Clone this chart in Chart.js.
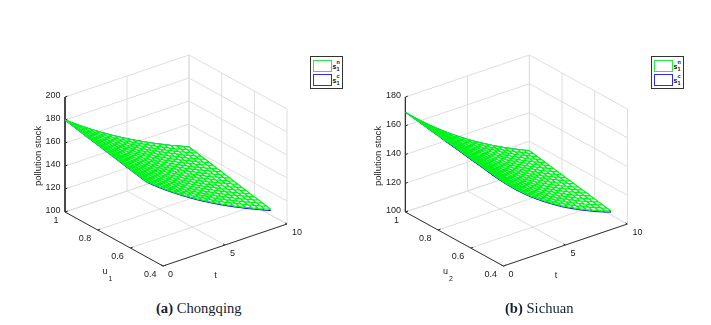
<!DOCTYPE html>
<html>
<head>
<meta charset="utf-8">
<script src="https://cdn.jsdelivr.net/npm/chart.js@4"></script>
<style>
  html, body { margin: 0; padding: 0; background: #fff; }
  #page { position: relative; width: 711px; height: 325px; overflow: hidden; }
  canvas { position: absolute; top: 0; }
  .caption { position: absolute; top: 300px; font: 14.6px "Liberation Serif", serif; color: #14202e; white-space: nowrap; }
  .legend { position: absolute; top: 56px; width: 31px; height: 31px; border: 1px solid #333; background: #fff; }
  .swatch { position: absolute; left: 2px; width: 17px; height: 10px; border: 1.3px solid; }
  .entry { position: absolute; left: 21.5px; font: bold 7px "Liberation Sans", sans-serif; color: #111; line-height: 7px; }
  .entry sup, .entry sub { position: absolute; left: 4px; font-size: 5.5px; line-height: 5.5px; }
  .entry sup { top: -3px; }
  .entry sub { top: 4px; }
</style>
</head>
<body>
<div id="page">
  <canvas id="chongqing" width="345" height="295" style="left:0"></canvas>
  <canvas id="sichuan" width="345" height="295" style="left:340px"></canvas>

  <div class="legend" style="left:310px">
    <div class="swatch" style="top:3px;border-color:#22ee44"></div>
    <div class="entry" style="top:6px">s<sup>n</sup><sub>1</sub></div>
    <div class="swatch" style="top:17px;border-color:#2a2aee"></div>
    <div class="entry" style="top:20px">s<sup>c</sup><sub>1</sub></div>
  </div>
  <div class="legend" style="left:651px">
    <div class="swatch" style="top:3px;border-color:#22ee44"></div>
    <div class="entry" style="top:6px">s<sup>n</sup><sub>1</sub></div>
    <div class="swatch" style="top:17px;border-color:#2a2aee"></div>
    <div class="entry" style="top:20px">s<sup>c</sup><sub>1</sub></div>
  </div>

  <div class="caption" style="left:156px"><b>(a)</b> Chongqing</div>
  <div class="caption" style="left:505px"><b>(b)</b> Sichuan</div>
</div>

<script>
// Grid the surfaces were read on
const tValues = [0, 0.5, 1, 1.5, 2, 2.5, 3, 3.5, 4, 4.5, 5, 5.5, 6, 6.5, 7, 7.5, 8, 8.5, 9, 9.5, 10];
const uValues = [1, 0.975, 0.95, 0.925, 0.9, 0.875, 0.85, 0.825, 0.8, 0.775, 0.75, 0.725, 0.7, 0.675, 0.65, 0.625, 0.6, 0.575, 0.55, 0.525, 0.5];
const uValuesCoarse = [1, 0.875, 0.75, 0.625, 0.5];

const tTicks = [0, 5, 10];
const uTicks = [1, 0.8, 0.6, 0.4];
const zTicksA = [100, 120, 140, 160, 180, 200];
const zTicksB = [100, 120, 140, 160, 180];

// Chongqing, non-cooperative surface: one row per uValues entry, one column per tValues entry
const chongqingN = [
  [180.0,176.1,172.3,168.6,165.0,161.5,158.1,154.8,151.6,148.5,145.5,142.6,139.8,137.1,134.4,131.9,129.4,126.9,124.6,122.3,120.1],
  [179.3,175.4,171.6,167.8,164.2,160.7,157.3,154.0,150.8,147.7,144.7,141.8,139.0,136.3,133.6,131.1,128.6,126.1,123.8,121.5,119.3],
  [178.6,174.6,170.8,167.1,163.5,160.0,156.6,153.3,150.1,147.0,144.0,141.1,138.2,135.5,132.9,130.4,127.9,125.4,123.1,120.8,118.6],
  [177.8,173.9,170.1,166.3,162.7,159.2,155.8,152.5,149.3,146.2,143.2,140.3,137.5,134.8,132.1,129.6,127.1,124.6,122.3,120.0,117.8],
  [177.1,173.2,169.3,165.6,162.0,158.4,155.0,151.7,148.5,145.4,142.4,139.5,136.7,134.0,131.3,128.8,126.3,123.8,121.5,119.3,117.1],
  [176.4,172.4,168.6,164.8,161.2,157.7,154.3,151.0,147.7,144.6,141.6,138.7,135.9,133.2,130.5,128.0,125.5,123.1,120.8,118.5,116.3],
  [175.7,171.7,167.8,164.1,160.4,156.9,153.5,150.2,147.0,143.9,140.9,138.0,135.1,132.4,129.8,127.3,124.8,122.3,120.0,117.7,115.6],
  [174.9,171.0,167.1,163.3,159.7,156.1,152.7,149.4,146.2,143.1,140.1,137.2,134.3,131.6,129.0,126.5,124.0,121.5,119.2,117.0,114.8],
  [174.2,170.2,166.3,162.6,158.9,155.4,151.9,148.6,145.4,142.3,139.3,136.4,133.6,130.9,128.2,125.7,123.2,120.8,118.5,116.2,114.1],
  [173.5,169.5,165.6,161.8,158.2,154.6,151.2,147.9,144.6,141.5,138.5,135.6,132.8,130.1,127.4,124.9,122.4,120.0,117.7,115.5,113.3],
  [172.8,168.8,164.9,161.1,157.4,153.9,150.4,147.1,143.9,140.8,137.8,134.9,132.0,129.3,126.7,124.2,121.7,119.3,117.0,114.7,112.6],
  [172.0,168.0,164.1,160.3,156.6,153.1,149.6,146.3,143.1,140.0,137.0,134.1,131.2,128.5,125.9,123.4,120.9,118.5,116.2,113.9,111.8],
  [171.3,167.3,163.4,159.5,155.9,152.3,148.9,145.6,142.3,139.2,136.2,133.3,130.4,127.7,125.1,122.6,120.1,117.7,115.4,113.2,111.0],
  [170.6,166.5,162.6,158.8,155.1,151.6,148.1,144.8,141.5,138.4,135.4,132.5,129.7,127.0,124.3,121.8,119.3,117.0,114.7,112.4,110.3],
  [169.9,165.8,161.9,158.0,154.4,150.8,147.3,144.0,140.8,137.7,134.7,131.8,128.9,126.2,123.6,121.1,118.6,116.2,113.9,111.7,109.5],
  [169.1,165.1,161.1,157.3,153.6,150.0,146.6,143.2,140.0,136.9,133.9,131.0,128.1,125.4,122.8,120.3,117.8,115.4,113.1,110.9,108.8],
  [168.4,164.3,160.4,156.5,152.8,149.3,145.8,142.5,139.2,136.1,133.1,130.2,127.3,124.6,122.0,119.5,117.0,114.7,112.4,110.1,108.0],
  [167.7,163.6,159.6,155.8,152.1,148.5,145.0,141.7,138.4,135.3,132.3,129.4,126.5,123.8,121.2,118.7,116.2,113.9,111.6,109.4,107.3],
  [167.0,162.9,158.9,155.0,151.3,147.7,144.2,140.9,137.7,134.6,131.6,128.7,125.8,123.1,120.5,118.0,115.5,113.1,110.8,108.6,106.5],
  [166.2,162.1,158.1,154.3,150.6,147.0,143.5,140.2,136.9,133.8,130.8,127.9,125.0,122.3,119.7,117.2,114.7,112.4,110.1,107.9,105.8],
  [165.5,161.4,157.4,153.5,149.8,146.2,142.7,139.4,136.1,133.0,130.0,127.1,124.2,121.5,118.9,116.4,113.9,111.6,109.3,107.1,105.0]
];

// Chongqing, cooperative surface: one row per uValuesCoarse entry (mostly hidden under the green one)
const chongqingC = [
  [180.0,176.1,172.3,168.6,165.0,161.5,158.1,154.8,151.6,148.5,145.5,142.6,139.8,137.1,134.4,131.9,129.4,126.9,124.6,122.3,120.1],
  [176.1,172.1,168.2,164.4,160.8,157.2,153.8,150.5,147.2,144.1,141.1,138.2,135.4,132.7,130.0,127.5,125.0,122.6,120.3,118.0,115.8],
  [172.4,168.2,164.2,160.3,156.5,152.9,149.4,146.1,142.9,139.8,136.8,133.9,131.0,128.3,125.7,123.2,120.7,118.3,116.0,113.7,111.6],
  [168.6,164.4,160.3,156.3,152.5,148.8,145.3,141.9,138.7,135.6,132.6,129.7,126.8,124.1,121.5,119.0,116.5,114.1,111.8,109.6,107.5],
  [165.0,160.8,156.7,152.8,149.1,145.5,142.0,138.6,135.3,132.2,129.2,126.3,123.4,120.7,118.1,115.6,113.0,110.7,108.4,106.0,103.9]
];

// Sichuan, non-cooperative surface
const sichuanN = [
  [169.4,165.4,161.6,158.0,154.5,151.1,147.8,144.7,141.7,138.8,136.0,133.3,130.8,128.3,125.9,123.6,121.4,119.3,117.3,115.3,113.4],
  [169.0,164.9,161.1,157.5,153.9,150.5,147.2,144.1,141.1,138.2,135.4,132.7,130.2,127.7,125.3,123.0,120.8,118.7,116.7,114.8,112.9],
  [168.5,164.4,160.6,156.9,153.4,149.9,146.6,143.5,140.5,137.5,134.7,132.0,129.5,127.1,124.7,122.4,120.2,118.1,116.2,114.2,112.3],
  [168.1,163.9,160.0,156.4,152.8,149.3,146.0,142.8,139.8,136.9,134.1,131.4,128.9,126.4,124.1,121.8,119.6,117.6,115.6,113.7,111.8],
  [167.6,163.5,159.5,155.8,152.2,148.7,145.4,142.2,139.2,136.3,133.5,130.8,128.3,125.8,123.5,121.2,119.0,117.0,115.0,113.1,111.3],
  [167.2,163.0,159.0,155.3,151.6,148.1,144.8,141.6,138.6,135.6,132.9,130.2,127.7,125.2,122.9,120.6,118.5,116.4,114.5,112.6,110.8],
  [166.7,162.5,158.5,154.7,151.1,147.5,144.2,141.0,138.0,135.0,132.2,129.5,127.0,124.6,122.2,120.0,117.9,115.8,113.9,112.0,110.2],
  [166.3,162.0,158.0,154.2,150.5,146.9,143.6,140.4,137.3,134.4,131.6,128.9,126.4,124.0,121.6,119.4,117.3,115.2,113.3,111.5,109.7],
  [165.8,161.5,157.4,153.6,149.9,146.3,143.0,139.7,136.7,133.8,131.0,128.3,125.8,123.3,121.0,118.8,116.7,114.7,112.8,110.9,109.2],
  [165.4,161.0,156.9,153.1,149.3,145.7,142.4,139.1,136.1,133.1,130.3,127.6,125.1,122.7,120.4,118.2,116.1,114.1,112.2,110.4,108.6],
  [164.9,160.6,156.4,152.5,148.8,145.2,141.8,138.5,135.5,132.5,129.7,127.0,124.5,122.1,119.8,117.6,115.5,113.5,111.7,109.8,108.1],
  [164.5,160.1,155.9,152.0,148.2,144.6,141.1,137.9,134.8,131.9,129.1,126.4,123.9,121.5,119.2,117.0,114.9,112.9,111.1,109.3,107.6],
  [164.1,159.6,155.4,151.4,147.6,144.0,140.5,137.3,134.2,131.2,128.4,125.7,123.2,120.9,118.6,116.4,114.3,112.3,110.5,108.7,107.0],
  [163.6,159.1,154.8,150.9,147.0,143.4,139.9,136.6,133.6,130.6,127.8,125.1,122.6,120.2,118.0,115.8,113.7,111.8,110.0,108.2,106.5],
  [163.2,158.6,154.3,150.3,146.5,142.8,139.3,136.0,133.0,130.0,127.2,124.5,122.0,119.6,117.4,115.2,113.1,111.2,109.4,107.6,106.0],
  [162.7,158.1,153.8,149.8,145.9,142.2,138.7,135.4,132.3,129.4,126.6,123.9,121.4,119.0,116.8,114.6,112.5,110.6,108.8,107.1,105.4],
  [162.3,157.6,153.3,149.2,145.3,141.6,138.1,134.8,131.7,128.7,125.9,123.2,120.7,118.4,116.1,114.0,112.0,110.0,108.3,106.5,104.9],
  [161.8,157.2,152.8,148.7,144.7,141.0,137.5,134.2,131.1,128.1,125.3,122.6,120.1,117.8,115.5,113.4,111.4,109.4,107.7,106.0,104.4],
  [161.4,156.7,152.2,148.1,144.2,140.4,136.9,133.5,130.5,127.5,124.7,122.0,119.5,117.1,114.9,112.8,110.8,108.9,107.1,105.4,103.9],
  [160.9,156.2,151.7,147.6,143.6,139.8,136.3,132.9,129.8,126.8,124.0,121.3,118.8,116.5,114.3,112.2,110.2,108.3,106.6,104.9,103.3],
  [160.5,155.7,151.2,147.0,143.0,139.2,135.7,132.3,129.2,126.2,123.4,120.7,118.2,115.9,113.7,111.6,109.6,107.7,106.0,104.3,102.8]
];

// Sichuan, cooperative surface
const sichuanC = [
  [169.4,165.4,161.6,158.0,154.5,151.1,147.8,144.7,141.7,138.8,136.0,133.3,130.8,128.3,125.9,123.6,121.4,119.3,117.3,115.3,113.4],
  [167.0,162.8,158.8,155.1,151.4,147.9,144.5,141.3,138.3,135.3,132.6,129.9,127.4,124.9,122.6,120.3,118.2,116.1,114.2,112.3,110.5],
  [164.5,160.2,156.0,152.1,148.3,144.6,141.2,137.9,134.8,131.8,129.0,126.3,123.8,121.4,119.1,116.9,114.8,112.8,111.0,109.1,107.4],
  [162.2,157.6,153.3,149.3,145.3,141.6,138.0,134.6,131.5,128.5,125.7,123.0,120.5,118.1,115.9,113.7,111.6,109.7,107.9,106.2,104.5],
  [160.1,155.2,150.7,146.5,142.5,138.6,135.1,131.7,128.6,125.6,122.8,120.1,117.5,115.2,113.0,110.9,108.9,107.0,105.2,103.5,102.0]
];

const GRID = "#dedede";
const AXIS = "#333333";
const TEXT = "#222222";

// One panel: scatter chart whose x/y scales run in canvas units, surface points projected onto them
function drawPanel(canvasId, originX, zTicks, surfaceN, surfaceC, uLabel) {
    const zMin = zTicks[0];
    const zMax = zTicks[zTicks.length - 1];
    const tMax = tTicks[tTicks.length - 1];
    const uMin = uTicks[uTicks.length - 1];
    const uMax = uTicks[0];

    function project(t, u, z) {
        const tf = t / tMax;
        const uf = (u - uMin) / (uMax - uMin);
        return {
            x: originX + tf * 124 - uf * 98,
            y: 266 - tf * 42 - uf * 54 - (z - zMin) / (zMax - zMin) * 115
        };
    }

    // joins polylines into one point list, with gaps between them
    function joined(lines) {
        const pts = [];
        lines.forEach(line => {
            line.forEach(p => pts.push(p));
            pts.push({ x: null, y: null });
        });
        return pts;
    }

    function meshLines(surface, us) {
        const lines = [];
        us.forEach((u, i) => lines.push(tValues.map((t, j) => project(t, u, surface[i][j]))));
        tValues.forEach((t, j) => lines.push(us.map((u, i) => project(t, u, surface[i][j]))));
        return lines;
    }

    function outline(surface, us) {
        const last = us.length - 1;
        const pts = [];
        tValues.forEach((t, j) => pts.push(project(t, us[0], surface[0][j])));
        us.forEach((u, i) => pts.push(project(tMax, u, surface[i][tValues.length - 1])));
        tValues.slice().reverse().forEach((t, j) => pts.push(project(t, us[last], surface[last][tValues.length - 1 - j])));
        us.slice().reverse().forEach((u, i) => pts.push(project(0, u, surface[last - i][0])));
        return pts;
    }

    // back walls and floor
    const gridLines = [];
    zTicks.forEach(z => {
        gridLines.push([project(0, uMax, z), project(tMax, uMax, z), project(tMax, uMin, z)]);
    });
    tTicks.forEach(t => {
        gridLines.push([project(t, uMin, zMin), project(t, uMax, zMin), project(t, uMax, zMax)]);
    });
    uTicks.forEach(u => {
        gridLines.push([project(0, u, zMin), project(tMax, u, zMin), project(tMax, u, zMax)]);
    });

    const axisLines = [
        [project(0, uMax, zMax), project(0, uMax, zMin), project(0, uMin, zMin), project(tMax, uMin, zMin)]
    ];
    zTicks.forEach(z => axisLines.push([project(0, uMax, z), project(0.2, uMax, z)]));
    uTicks.forEach(u => axisLines.push([project(0, u, zMin), project(0.2, u, zMin)]));
    tTicks.forEach(t => axisLines.push([project(t, uMin, zMin), project(t, uMin + 0.012, zMin)]));

    const line = (data, color, width, order) => ({
        data: data,
        showLine: true,
        borderColor: color,
        borderWidth: width,
        pointRadius: 0,
        spanGaps: false,
        fill: false,
        order: order
    });

    const face = (data, order) => ({
        data: data,
        showLine: true,
        borderWidth: 0,
        borderColor: "rgba(0,0,0,0)",
        backgroundColor: "#ffffff",
        pointRadius: 0,
        fill: "shape",
        order: order
    });

    const tickLabels = {
        id: "tickLabels",
        afterDraw(chart) {
            const c = chart.ctx;
            const sx = chart.scales.x;
            const sy = chart.scales.y;
            const at = p => ({ x: sx.getPixelForValue(p.x), y: sy.getPixelForValue(p.y) });
            c.save();
            c.fillStyle = TEXT;
            c.textBaseline = "middle";
            c.font = '9px "Liberation Sans", sans-serif';

            c.textAlign = "right";
            zTicks.forEach(z => {
                const p = at(project(0, uMax, z));
                c.fillText(String(z), p.x - 4.5, p.y - 1);
            });
            uTicks.forEach(u => {
                const p = at(project(0, u, zMin));
                c.fillText(String(u), p.x - 6.5, p.y + 8.3);
            });
            c.textAlign = "left";
            tTicks.forEach(t => {
                const p = at(project(t, uMin, zMin));
                c.fillText(String(t), p.x + 5, p.y + 9);
            });

            // axis titles sit a fixed distance off the box
            const o = at(project(0, uMax, zMin));
            const f = at(project(0, uMin, zMin));
            c.textAlign = "center";
            c.fillText("t", f.x + 52.5, f.y + 10);
            c.fillText("u", f.x - 58, f.y + 6);
            c.font = '7px "Liberation Sans", sans-serif';
            c.fillText(uLabel, f.x - 52.5, f.y + 13);

            c.font = '9.5px "Liberation Sans", sans-serif';
            c.translate(o.x - 27, o.y - 56);
            c.rotate(-Math.PI / 2);
            c.fillText("pollution stock", 0, 0);
            c.restore();
        }
    };

    return new Chart(document.getElementById(canvasId).getContext("2d"), {
        type: "scatter",
        data: {
            datasets: [
                line(joined(meshLines(surfaceN, uValues)), "#00f41c", 1.25, 0),
                face(outline(surfaceN, uValues), 1),
                line(joined(meshLines(surfaceC, uValuesCoarse)), "#1010f0", 1, 2),
                face(outline(surfaceC, uValuesCoarse), 3),
                line(joined(axisLines), AXIS, 1, 4),
                line(joined(gridLines), GRID, 1, 5)
            ]
        },
        options: {
            responsive: false,
            animation: false,
            layout: { padding: 0 },
            scales: {
                x: { type: "linear", display: false, min: 0, max: 345 },
                y: { type: "linear", display: false, min: 0, max: 295, reverse: true }
            },
            plugins: { legend: { display: false }, tooltip: { enabled: false } }
        },
        plugins: [tickLabels]
    });
}

drawPanel("chongqing", 163, zTicksA, chongqingN, chongqingC, "1");
drawPanel("sichuan", 163.4, zTicksB, sichuanN, sichuanC, "2");
</script>
</body>
</html>
